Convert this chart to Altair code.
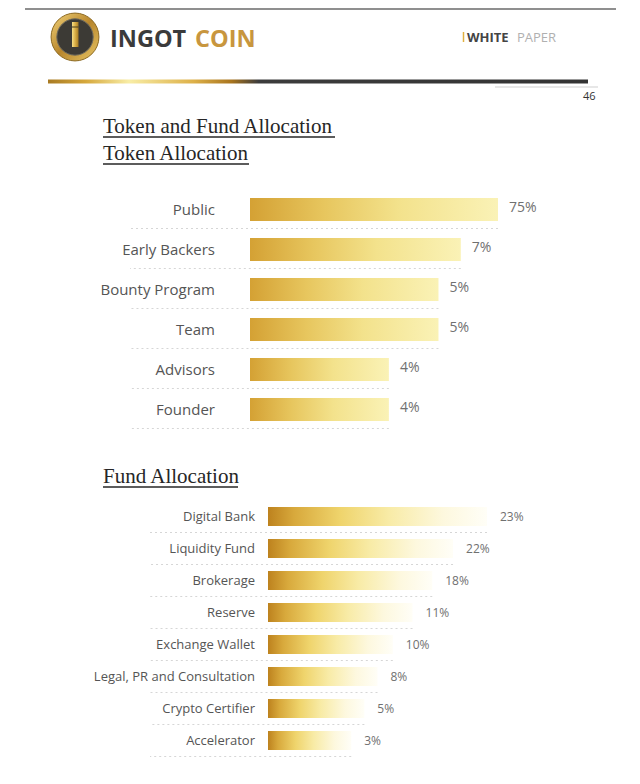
import altair as alt
import pandas as pd

# ---------------- data ----------------
tok_cats = ["Public", "Early Backers", "Bounty Program", "Team", "Advisors", "Founder"]
tok_labels = ["75%", "7%", "5%", "5%", "4%", "4%"]
# drawn bar length relative to the longest bar
tok_bar = [100, 85, 76, 76, 56, 56]

fund_cats = ["Digital Bank", "Liquidity Fund", "Brokerage", "Reserve",
             "Exchange Wallet", "Legal, PR and Consultation", "Crypto Certifier", "Accelerator"]
fund_labels = ["23%", "22%", "18%", "11%", "10%", "8%", "5%", "3%"]
fund_bar = [100, 84.5, 75, 66, 57, 50, 44, 38]

tok_df = pd.DataFrame({"cat": tok_cats, "label": tok_labels, "len": tok_bar})
fund_df = pd.DataFrame({"cat": fund_cats, "label": fund_labels, "len": fund_bar})
one = pd.DataFrame({"k": [0]})

SANS = "Open Sans"
SERIF = "Liberation Serif"


def P(v):
    # page pixel -> chart pixel (page margin is 8px)
    return v - 8


def grad(stops, x2=1, y2=0):
    return alt.Gradient(
        gradient="linear",
        stops=[alt.GradientStop(color=c, offset=o) for o, c in stops],
        x1=0, y1=0, x2=x2, y2=y2,
    )


tok_grad = grad([(0, "#D4A134"), (0.3, "#E7C65E"), (0.6, "#F3E28C"), (1, "#FAF2B6")])
fund_grad = grad([(0, "#BD821E"), (0.12, "#D8A93C"), (0.33, "#EFD46C"),
                  (0.55, "#F8EBA6"), (0.8, "#FDF8DE"), (1, "#FFFEF7")])
line_grad = grad([(0, "#A87A22"), (0.07, "#D6A83C"), (0.15, "#F8EDA6"),
                  (0.27, "#DDB048"), (0.34, "#A8741E"), (0.39, "#3c3c3c"), (1, "#333333")])
ingot_grad = grad([(0, "#F6DE86"), (0.5, "#D9AE46"), (1, "#A87C24")])
ring_grad = grad([(0, "#F2D37A"), (0.5, "#B8862C"), (1, "#E9C868")], x2=1, y2=1)

base = alt.Chart(one)

# ---------------- header ----------------
top_line = base.mark_rule(color="#6a6a6a", strokeWidth=1.5).encode(
    x=alt.value(P(25)), x2=alt.value(P(616)), y=alt.value(1))
ring = base.mark_circle(opacity=1, fill=ring_grad, stroke="#8d6a22", strokeWidth=1).encode(
    x=alt.value(P(75)), y=alt.value(P(37)), size=alt.value(3.1416 * 27 * 27))
inner = base.mark_circle(opacity=1, color="#3c3a35", stroke="#6e6a5e", strokeWidth=1).encode(
    x=alt.value(P(75)), y=alt.value(P(37)), size=alt.value(3.1416 * 20.5 * 20.5))
ingot = base.mark_rect(fill=ingot_grad).encode(
    x=alt.value(P(72)), x2=alt.value(P(78.5)), y=alt.value(P(22)), y2=alt.value(P(47)))
ingot_notch = base.mark_rule(color="#4a3c1c", strokeWidth=1).encode(
    x=alt.value(P(72)), x2=alt.value(P(78.5)), y=alt.value(P(27)))
ingot_txt = base.mark_text(text="INGOT", font=SANS, fontWeight="bold", fontSize=23.5,
                           color="#3b3b3b", align="left", baseline="alphabetic").encode(
    x=alt.value(P(110)), y=alt.value(P(47)))
coin_txt = base.mark_text(text="COIN", font=SANS, fontWeight="bold", fontSize=23.5,
                          color="#C8963E", align="left", baseline="alphabetic").encode(
    x=alt.value(P(195)), y=alt.value(P(47)))
wp_bar = base.mark_rule(color="#E0B040", strokeWidth=1.5).encode(
    x=alt.value(P(463.5)), y=alt.value(P(32)), y2=alt.value(P(42)))
white_txt = base.mark_text(text="WHITE", font=SANS, fontWeight="bold", fontSize=13,
                           color="#444444", align="left", baseline="alphabetic").encode(
    x=alt.value(P(467)), y=alt.value(P(42)))
paper_txt = base.mark_text(text="PAPER", font=SANS, fontSize=13,
                           color="#b0b0b0", align="left", baseline="alphabetic").encode(
    x=alt.value(P(517)), y=alt.value(P(42)))
hdr_line = base.mark_rect(fill=line_grad).encode(
    x=alt.value(P(48)), x2=alt.value(P(588)), y=alt.value(P(79.5)), y2=alt.value(P(83.5)))
thin_line = base.mark_rule(color="#cfcfcf", strokeWidth=1).encode(
    x=alt.value(P(495)), x2=alt.value(P(598)), y=alt.value(P(87)))
page_no = base.mark_text(text="46", font=SANS, fontSize=11, color="#333333",
                         align="left", baseline="middle").encode(
    x=alt.value(P(583)), y=alt.value(P(97)))

# ---------------- titles ----------------
def title(txt, x0, base_y, x1):
    t = base.mark_text(text=txt, font=SERIF, fontSize=21, color="#262626",
                       align="left", baseline="alphabetic").encode(
        x=alt.value(P(x0)), y=alt.value(P(base_y)))
    u = base.mark_rule(color="#262626", strokeWidth=1.3).encode(
        x=alt.value(P(x0)), x2=alt.value(P(x1)), y=alt.value(P(base_y + 4)))
    return [t, u]

titles = (title("Token and Fund Allocation", 103, 133, 335)
          + title("Token Allocation", 103, 160, 249)
          + title("Fund Allocation", 103, 483, 238))

# ---------------- token allocation ----------------
tok_y = alt.Y("cat:N", sort=tok_cats, axis=None,
              scale=alt.Scale(domain=tok_cats, range=[P(189.5), P(429.5)],
                              paddingInner=0.425, paddingOuter=0.2125))
tok_x = alt.X("len:Q", axis=None, scale=alt.Scale(domain=[0, 100], range=[P(250), P(498)]))
tb = alt.Chart(tok_df)
tok_dots = tb.mark_rule(color="#d6d6d6", strokeWidth=1, strokeDash=[2, 3], yOffset=19).encode(
    y=tok_y, x=tok_x, x2=alt.value(P(130)))
tok_bars = tb.mark_bar(color=tok_grad).encode(y=tok_y, x=tok_x)
tok_names = tb.mark_text(font=SANS, fontSize=15, color="#555555", align="right",
                         baseline="middle").encode(y=tok_y, x=alt.value(P(215)), text="cat:N")
tok_vals = tb.mark_text(font=SANS, fontSize=14, color="#707070", align="left",
                        baseline="middle", dx=11, dy=-2).encode(y=tok_y, x=tok_x, text="label:N")
token_layer = alt.layer(tok_dots, tok_bars, tok_names, tok_vals)

# ---------------- fund allocation ----------------
fund_y = alt.Y("cat:N", sort=fund_cats, axis=None,
               scale=alt.Scale(domain=fund_cats, range=[P(500.5), P(756.5)],
                               paddingInner=0.40625, paddingOuter=0.203125))
fund_x = alt.X("len:Q", axis=None, scale=alt.Scale(domain=[0, 100], range=[P(268), P(487)]))
fb = alt.Chart(fund_df)
fund_dots = fb.mark_rule(color="#d6d6d6", strokeWidth=1, strokeDash=[2, 3], yOffset=16).encode(
    y=fund_y, x=fund_x, x2=alt.value(P(150)))
fund_bars = fb.mark_bar(color=fund_grad).encode(y=fund_y, x=fund_x)
fund_names = fb.mark_text(font=SANS, fontSize=13, color="#555555", align="right",
                          baseline="middle").encode(y=fund_y, x=alt.value(P(255)), text="cat:N")
fund_vals = fb.mark_text(font=SANS, fontSize=12, color="#707070", align="left",
                         baseline="middle", dx=13).encode(y=fund_y, x=fund_x, text="label:N")
fund_layer = alt.layer(fund_dots, fund_bars, fund_names, fund_vals)

chart = alt.layer(
    top_line, ring, inner, ingot, ingot_notch, ingot_txt, coin_txt,
    wp_bar, white_txt, paper_txt, hdr_line, thin_line, page_no,
    *titles, token_layer, fund_layer,
).resolve_scale(x="independent", y="independent").properties(
    width=624, height=768, padding=0,
    autosize=alt.AutoSizeParams(type="none"),
    background="white",
).configure_view(stroke=None)

chart.save("out.html", embed_options={"renderer": "svg", "actions": False})
